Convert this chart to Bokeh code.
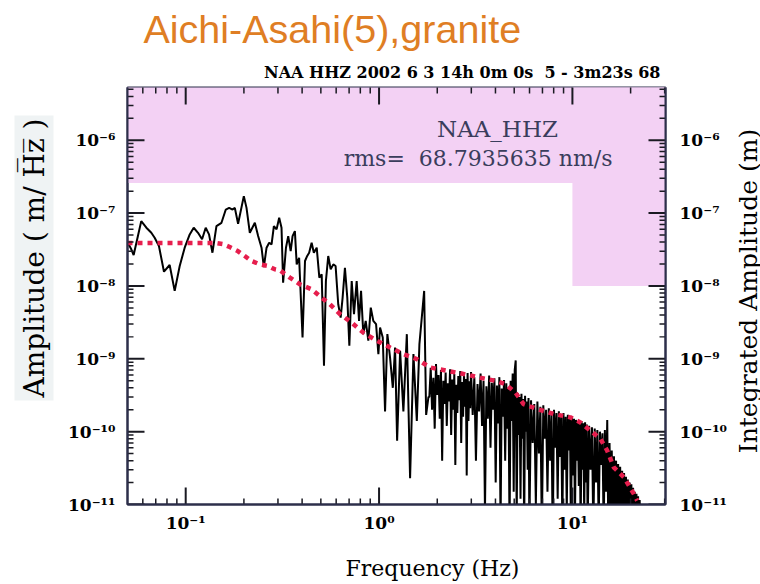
import math
from bokeh.plotting import figure
from bokeh.layouts import row
from bokeh.models import LogAxis, FixedTicker, CustomJSTickFormatter, Label, Title
from bokeh.embed import file_html
from bokeh.resources import INLINE

# ---------------- texts ----------------
title_text = "Aichi-Asahi(5),granite"
subtitle_text = "NAA HHZ 2002 6 3 14h 0m 0s\u00a0 5 - 3m23s 68"
station_text = "NAA_HHZ"
rms_text = "rms=\u00a0 68.7935635 nm/s"
x_label = "Frequency (Hz)"
y_label = "Amplitude ( m/ H\u0305z\u0305 )"
y2_label = "Integrated Amplitude (m)"

# ---------------- ticks ----------------
x_ticks = [0.1, 1.0, 10.0]
y_ticks = [1e-11, 1e-10, 1e-9, 1e-8, 1e-7, 1e-6]

# ---------------- shaded (pink) zone ----------------
shade_top_level = 2.6e-7
shade_corner_freq = 10.0
shade_corner_level = 1.0e-8

# ---------------- spectrum (black) ----------------
black_freq = [
    0.0502, 0.0523, 0.0538, 0.0566, 0.0589, 0.0626, 0.0664, 0.0691, 0.0727, 0.0772,
    0.0826, 0.0877, 0.0931, 0.0988, 0.1049, 0.1100, 0.1158, 0.1215, 0.1269, 0.1320,
    0.1375, 0.1442, 0.1531, 0.1612, 0.1677, 0.1746, 0.1795, 0.1866, 0.1998, 0.2063,
    0.2146, 0.2278, 0.2369, 0.2467, 0.2536, 0.2619, 0.2702, 0.2780, 0.2858, 0.2951,
    0.3044, 0.313, 0.319, 0.330, 0.339, 0.349, 0.357, 0.367, 0.375, 0.386,
    0.402, 0.414, 0.425, 0.435, 0.448, 0.460, 0.476, 0.491, 0.505, 0.519,
    0.531, 0.546, 0.562, 0.580, 0.596, 0.615, 0.633, 0.648, 0.666, 0.685,
    0.702, 0.722, 0.742, 0.766, 0.788, 0.807, 0.829, 0.853, 0.880, 0.906,
    0.934, 0.965, 0.992, 1.012, 1.045, 1.074, 1.104, 1.140, 1.178, 1.210,
    1.240, 1.285, 1.336, 1.392, 1.447, 1.506, 1.568, 1.617, 1.711, 1.752,
    1.801,
    1.82, 1.85, 1.88, 1.91, 1.94, 1.97, 2.00, 2.03, 2.06, 2.09,
    2.12, 2.15, 2.18, 2.21, 2.24, 2.27, 2.30, 2.33, 2.36, 2.39,
    2.42, 2.45, 2.48, 2.51, 2.54, 2.57, 2.60, 2.63, 2.66, 2.69,
    2.72, 2.75, 2.78, 2.81, 2.84, 2.87, 2.90, 2.93, 2.96, 2.99,
    3.05, 3.11, 3.17, 3.23, 3.29, 3.35, 3.41, 3.47, 3.53, 3.59,
    3.65, 3.71, 3.77, 3.83, 3.89, 3.95, 4.01, 4.07, 4.13, 4.19,
    4.25, 4.31, 4.37, 4.43, 4.49, 4.55, 4.61, 4.67, 4.73, 4.79,
    4.85, 4.91, 4.97, 5.03, 5.09, 5.15, 5.21, 5.27, 5.33, 5.39,
    5.45, 5.51, 5.57, 5.63, 5.69, 5.75, 5.81, 5.87, 5.93, 5.99,
    6.11, 6.23, 6.35, 6.47, 6.59, 6.71, 6.83, 6.95, 7.07, 7.19,
    7.31, 7.43, 7.55, 7.67, 7.79, 7.91, 8.03, 8.15, 8.27, 8.39,
    8.51, 8.63, 8.75, 8.87, 8.99, 9.11, 9.23, 9.35, 9.47, 9.59,
    9.71, 9.83, 9.95, 10.07, 10.19, 10.31, 10.43, 10.55, 10.67, 10.79,
    10.91, 11.03, 11.15, 11.27, 11.39, 11.51, 11.63, 11.75, 11.87, 11.99,
    12.20, 12.41, 12.62, 12.83, 13.04, 13.25, 13.46, 13.67, 13.88, 14.09,
    14.30, 14.51, 14.72, 14.93, 15.14, 15.35, 15.56, 15.77, 15.98, 16.19,
    16.40, 16.61, 16.82, 17.03, 17.24, 17.45, 17.66, 17.87, 18.08, 18.29,
    18.50, 18.71, 18.92, 19.13, 19.34, 19.55, 19.76, 19.97, 20.18, 20.39,
    20.60, 20.81, 21.02, 21.23, 21.44, 21.65, 21.86, 22.07, 22.28, 22.49,
]
black_amp = [
    3.92e-8, 3.19e-8, 2.66e-8, 4.84e-8, 7.76e-8, 6.30e-8, 5.37e-8, 4.59e-8, 3.53e-8, 1.57e-8,
    1.94e-8, 8.55e-9, 1.88e-8, 3.35e-8, 5.10e-8, 6.30e-8, 5.37e-8, 4.37e-8, 6.30e-8, 5.10e-8,
    2.86e-8, 6.64e-8, 7.36e-8, 1.12e-7, 1.18e-7, 1.12e-7, 1.18e-7, 7.13e-8, 1.71e-7, 1.18e-7,
    5.37e-8, 7.36e-8, 4.84e-8, 3.35e-8, 1.82e-8, 3.35e-8, 3.92e-8, 3.72e-8, 6.64e-8, 5.98e-8,
    8.63e-8, 6.30e-8, 1.11e-8, 3.35e-8, 4.84e-8, 3.01e-8, 4.84e-8, 5.66e-8, 1.98e-8, 2.44e-8,
    1.96e-9, 2.20e-8, 2.58e-8, 2.86e-8, 3.92e-8, 2.86e-8, 3.35e-8, 1.30e-8, 1.45e-8, 8.02e-10,
    1.17e-8, 2.58e-8, 1.69e-8, 1.98e-8, 1.88e-8, 5.61e-9, 3.68e-9, 6.92e-9, 1.78e-8, 6.92e-9,
    1.51e-9, 1.17e-8, 4.10e-9, 1.17e-8, 3.32e-9, 8.55e-9, 2.18e-9, 3.32e-9, 1.77e-9, 5.05e-9,
    3.32e-9, 2.99e-9, 1.16e-9, 2.69e-9, 1.96e-9, 1.9e-10, 2.18e-9, 1.04e-9, 4.0e-10, 1.43e-9,
    7.5e-11, 1.29e-9, 1.9e-10, 2.18e-9, 2.3e-11, 1.16e-9, 1.4e-10, 1.59e-9, 8.55e-9, 1.7e-10,
    3.0e-10,
    3.0e-10, 7.5e-10, 2.0e-10, 5.5e-10, 1.1e-10, 8.5e-10, 3.2e-10, 6.0e-10, 1.5e-10, 7.0e-10,
    4.0e-11, 5.0e-10, 2.4e-10, 6.5e-10, 1.2e-10, 4.6e-10, 2.6e-10, 7.2e-10, 9.0e-11, 5.2e-10,
    2.0e-10, 6.2e-10, 3.5e-11, 4.4e-10, 1.8e-10, 5.8e-10, 2.7e-10, 6.8e-10, 7.0e-11, 4.8e-10,
    1.6e-10, 6.0e-10, 2.2e-10, 5.3e-10, 2.5e-11, 6.4e-10, 1.4e-10, 4.9e-10, 2.1e-10, 6.6e-10,
    1.7e-10, 5.6e-10, 4.0e-11, 4.5e-10, 1.9e-10, 6.3e-10, 1.2e-10, 5.0e-10, 8.0e-12, 4.2e-10,
    1.5e-10, 5.9e-10, 6.0e-11, 4.7e-10, 2.0e-10, 5.4e-10, 2.0e-11, 4.3e-10, 1.3e-10, 5.6e-10,
    5.0e-12, 3.9e-10, 1.6e-10, 5.1e-10, 4.0e-11, 4.6e-10, 1.1e-10, 4.0e-10, 4.0e-12, 5.0e-10,
    1.4e-10, 6.3e-10, 1.5e-11, 7.0e-10, 9.5e-10, 6.0e-12, 3.4e-10, 9.0e-11, 3.0e-10, 1.2e-11,
    3.3e-10, 8.0e-11, 2.8e-10, 4.0e-12, 3.1e-10, 1.0e-10, 2.6e-10, 3.0e-11, 2.9e-10, 5.0e-12,
    2.7e-10, 7.0e-11, 2.4e-10, 1.0e-11, 2.6e-10, 5.0e-11, 2.2e-10, 4.0e-12, 2.3e-10, 8.0e-11,
    2.0e-10, 1.5e-11, 2.1e-10, 4.0e-11, 1.9e-10, 3.0e-12, 2.0e-10, 6.0e-11, 1.8e-10, 1.2e-11,
    1.9e-10, 4.5e-11, 1.7e-10, 5.0e-12, 1.8e-10, 3.0e-11, 1.6e-10, 8.0e-12, 1.7e-10, 5.5e-11,
    1.5e-10, 4.0e-12, 1.6e-10, 2.5e-11, 1.5e-10, 6.0e-12, 1.45e-10, 4.0e-11, 1.4e-10, 1.8e-11,
    1.35e-10, 4.0e-12, 1.4e-10, 3.0e-11, 1.3e-10, 7.0e-12, 1.35e-10, 2.0e-11, 1.25e-10, 5.0e-12,
    1.2e-10, 3.0e-11, 1.15e-10, 4.0e-12, 1.1e-10, 2.0e-11, 1.05e-10, 5.0e-12, 1.0e-10, 3.5e-11,
    9.5e-11, 4.0e-12, 1.05e-10, 1.5e-11, 1.45e-10, 3.0e-12, 7.0e-11, 1.0e-11, 5.5e-11, 4.0e-12,
    4.6e-11, 8.0e-12, 4.0e-11, 3.0e-12, 3.6e-11, 6.0e-12, 3.3e-11, 4.0e-12, 2.9e-11, 7.0e-12,
    2.7e-11, 3.0e-12, 2.4e-11, 6.0e-12, 2.2e-11, 4.0e-12, 2.0e-11, 5.0e-12, 1.9e-11, 3.0e-12,
    1.7e-11, 5.0e-12, 1.5e-11, 4.0e-12, 1.4e-11, 5.0e-12, 1.3e-11, 3.0e-12, 1.15e-11, 4.0e-12,
]

# ---------------- integrated amplitude (red dotted) ----------------
red_freq = [0.050, 0.1447, 0.1555, 0.169, 0.186, 0.202, 0.219, 0.242, 0.267, 0.289,
            0.307, 0.346, 0.390, 0.448, 0.505, 0.557, 0.628, 0.722, 0.829, 0.973,
            1.140, 1.336, 1.568, 1.837, 2.243, 2.734, 3.337, 3.99, 4.50, 5.07,
            5.59, 6.56, 8.00, 9.76, 11.00, 12.40, 13.97, 15.13, 16.37, 18.45,
            20.78, 21.64]
red_amp = [3.88e-8, 3.88e-8, 3.76e-8, 3.42e-8, 3.01e-8, 2.58e-8, 2.20e-8, 1.98e-8, 1.88e-8, 1.69e-8,
           1.64e-8, 1.30e-8, 1.05e-8, 9.0e-9, 6.9e-9, 5.6e-9, 4.1e-9, 3.14e-9, 2.29e-9, 1.77e-9,
           1.43e-9, 1.16e-9, 9.9e-10, 7.6e-10, 6.85e-10, 6.2e-10, 5.5e-10, 5.0e-10, 4.5e-10, 3.45e-10,
           2.39e-10, 2.05e-10, 1.75e-10, 1.57e-10, 1.34e-10, 1.03e-10, 7.94e-11, 5.5e-11, 3.24e-11, 2.37e-11,
           1.40e-11, 1.13e-11]

# ---------------- layout ----------------
X_RANGE = (0.05, 30.3)
Y_RANGE = (1e-11, 5.3e-6)
W, H = 760, 584
SIDE_W = 30                      # strip on the right holding the right-hand label
MAIN_W = W - SIDE_W
FL, FR, FT, FB = 127, 665, 86, 504

PINK = "#f3d1f4"
FRAME = "#2d2f4a"
INK = "#3a3d5c"
RED = "#e61e4d"
ORANGE = "#df7e24"
TICK = "#1a1a22"
SERIF = "DejaVu Serif"

p = figure(width=MAIN_W, height=H, x_axis_type="log", y_axis_type="log", title=None,
           x_range=X_RANGE, y_range=Y_RANGE, output_backend="svg",
           toolbar_location=None, min_border_left=FL, min_border_right=MAIN_W - FR,
           min_border_top=FT, min_border_bottom=H - FB)
p.grid.visible = False
p.background_fill_color = "white"
p.border_fill_color = "white"
p.outline_line_color = FRAME
p.outline_line_width = 2

lx0, lx1 = math.log10(X_RANGE[0]), math.log10(X_RANGE[1])
ly0, ly1 = math.log10(Y_RANGE[0]), math.log10(Y_RANGE[1])
ppd_x = (FR - FL) / (lx1 - lx0)   # pixels per decade
ppd_y = (FB - FT) / (ly1 - ly0)


def xd(px):
    return 10 ** (lx0 + (px - FL) / ppd_x)


def yd(py):
    return 10 ** (ly0 + (FB - py) / ppd_y)


# pink zones
p.quad(left=[X_RANGE[0] * 0.5, shade_corner_freq],
       right=[X_RANGE[1] * 2, X_RANGE[1] * 2],
       bottom=[shade_top_level, shade_corner_level],
       top=[Y_RANGE[1] * 2, Y_RANGE[1] * 2],
       fill_color=PINK, line_color=None)

p.line(black_freq, black_amp, line_color="black", line_width=2)
p.line(red_freq, red_amp, line_color=RED, line_width=4.5, line_dash="5 5")

# ---------------- inward ticks on all four sides (thin rectangles) ----------------
x_minor = [k * 10.0 ** e for e in range(-2, 2) for k in range(2, 10)
           if X_RANGE[0] < k * 10.0 ** e < X_RANGE[1]]
y_minor = [k * 10.0 ** e for e in range(-12, -5) for k in range(2, 10)
           if Y_RANGE[0] < k * 10.0 ** e < Y_RANGE[1]]


def inner_ticks(xs, ys, length, width):
    fx = 10 ** (length / ppd_x)
    fy = 10 ** (length / ppd_y)
    hx = 10 ** (width / 2 / ppd_x)
    hy = 10 ** (width / 2 / ppd_y)
    x0, x1 = X_RANGE
    y0, y1 = Y_RANGE
    L, R, B, T = [], [], [], []
    for t in xs:
        L += [t / hx, t / hx]; R += [t * hx, t * hx]
        B += [y0 / 2, y1 / fy]; T += [y0 * fy, y1 * 2]
    for t in ys:
        L += [x0 / 2, x1 / fx]; R += [x0 * fx, x1 * 2]
        B += [t / hy, t / hy]; T += [t * hy, t * hy]
    p.quad(left=L, right=R, bottom=B, top=T, fill_color=TICK, line_color=None)


inner_ticks(x_minor, y_minor, 6, 1.5)
inner_ticks(x_ticks, y_ticks, 17, 2)

# ---------------- axes (labels) ----------------
fmt_code = """
const e = Math.round(Math.log10(tick));
const m = {'-':'\u207b','0':'\u2070','1':'\u00b9','2':'\u00b2','3':'\u00b3','4':'\u2074','5':'\u2075','6':'\u2076','7':'\u2077','8':'\u2078','9':'\u2079'};
let s = '';
for (const c of String(e)) { s += m[c]; }
return '10' + s;
"""


def style(ax):
    ax.axis_line_color = FRAME
    ax.axis_line_width = 2
    ax.major_tick_in = 0
    ax.major_tick_out = 0
    ax.minor_tick_in = 0
    ax.minor_tick_out = 0
    ax.major_tick_line_color = None
    ax.minor_tick_line_color = None
    ax.major_label_text_font = SERIF
    ax.major_label_text_font_style = "bold"
    ax.major_label_text_font_size = "17px"
    ax.major_label_text_color = "black"


xa = p.xaxis[0]
xa.ticker = FixedTicker(ticks=x_ticks)
xa.formatter = CustomJSTickFormatter(code=fmt_code)
style(xa)
xa.major_label_standoff = 8

ya = p.yaxis[0]
ya.ticker = FixedTicker(ticks=y_ticks)
ya.formatter = CustomJSTickFormatter(code=fmt_code)
style(ya)
ya.major_label_standoff = 12

right = LogAxis(ticker=FixedTicker(ticks=y_ticks),
                formatter=CustomJSTickFormatter(code=fmt_code))
style(right)
right.major_label_standoff = 14
p.add_layout(right, "right")


def try_set(obj, **kw):
    for k, v in kw.items():
        try:
            setattr(obj, k, v)
        except Exception:
            pass


# ---------------- titles around the frame ----------------
sub = Title(text=subtitle_text, align="right", offset=5, standoff=12, vertical_align="bottom",
            text_font=SERIF, text_font_size="16px", text_font_style="bold", text_color="black")
p.add_layout(sub, "above")
main = Title(text=title_text, align="left", offset=16, standoff=8, vertical_align="bottom",
             text_font="Liberation Sans", text_font_size="39.5px", text_font_style="normal",
             text_color=ORANGE)
p.add_layout(main, "above")

left_t = Title(text=y_label, align="left", offset=104, standoff=22, vertical_align="bottom",
               text_font=SERIF, text_font_size="28px", text_font_style="normal", text_color="black")
try_set(left_t, background_fill_color="#eff3f4", padding=3)
p.add_layout(left_t, "left")

freq_t = Title(text=x_label, align="left", offset=218, standoff=0, vertical_align="top",
               text_font=SERIF, text_font_size="22px", text_font_style="normal", text_color="black")
try_set(freq_t, padding=dict(top=20, bottom=0, left=0, right=0))
p.add_layout(freq_t, "below")

# ---------------- texts inside the frame ----------------
p.add_layout(Label(x=xd(497), y=yd(128), text=station_text, text_font=SERIF,
                   text_font_size="23px", text_color=INK, text_align="center",
                   text_baseline="alphabetic"))
p.add_layout(Label(x=xd(612), y=yd(157), text=rms_text, text_font=SERIF,
                   text_font_size="22px", text_color=INK, text_align="right",
                   text_baseline="alphabetic"))

# ---------------- right strip with the integrated-amplitude label ----------------
side = figure(width=SIDE_W, height=H, x_range=(0, SIDE_W), y_range=(0, H), title=None,
              output_backend="svg", toolbar_location=None,
              x_axis_location=None, y_axis_location=None,
              min_border_left=0, min_border_right=0, min_border_top=0, min_border_bottom=0)
side.grid.visible = False
side.outline_line_color = None
side.background_fill_color = "white"
side.border_fill_color = "white"
side.add_layout(Label(x=748 - MAIN_W, y=H - 285, text=y2_label, angle=math.pi / 2,
                      text_font=SERIF, text_font_size="25px", text_color="black",
                      text_align="center", text_baseline="middle"))

layout = row(p, side)
open("out.html", "w").write(file_html(layout, INLINE))
